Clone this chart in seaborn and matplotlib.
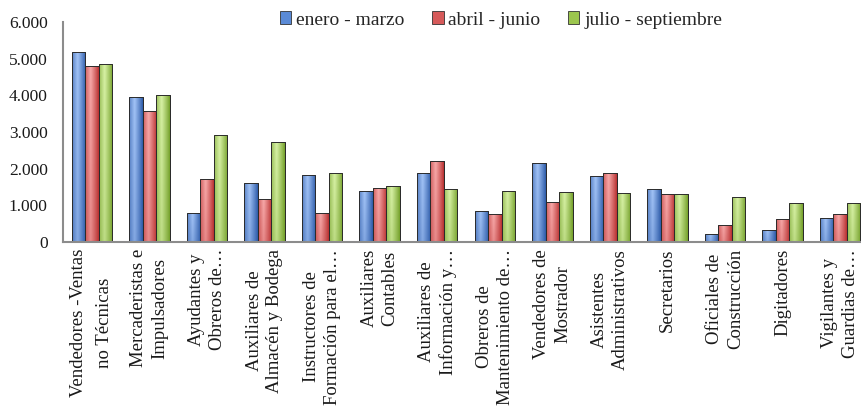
import numpy as np
import pandas as pd
import seaborn as sns
import matplotlib.pyplot as plt
from matplotlib.patches import Patch
from matplotlib.ticker import FuncFormatter

categories = [
    "Vendedores -Ventas\nno Técnicas",
    "Mercaderistas e\nImpulsadores",
    "Ayudantes y\nObreros de…",
    "Auxiliares de\nAlmacén y Bodega",
    "Instructores de\nFormación para el…",
    "Auxiliares\nContables",
    "Auxiliares de\nInformación y…",
    "Obreros de\nMantenimiento de…",
    "Vendedores de\nMostrador",
    "Asistentes\nAdministrativos",
    "Secretarios",
    "Oficiales de\nConstrucción",
    "Digitadores",
    "Vigilantes y\nGuardias de…",
]
periods = ["enero - marzo", "abril - junio", "julio - septiembre"]
enero_marzo = [5190, 3950, 780, 1600, 1830, 1380, 1870, 840, 2145, 1790, 1440, 210, 320, 645]
abril_junio = [4810, 3565, 1710, 1165, 780, 1460, 2200, 755, 1080, 1870, 1300, 455, 620, 755]
julio_septiembre = [4850, 4000, 2910, 2720, 1870, 1520, 1440, 1380, 1355, 1330, 1300, 1220, 1055, 1055]

# dark edge / light centre of each bar gradient
dark = {"enero - marzo": "#2c5aa8", "abril - junio": "#b83030", "julio - septiembre": "#74a02a"}
light = {"enero - marzo": "#a3c4f7", "abril - junio": "#f8aaaa", "julio - septiembre": "#d8f2a6"}
mid = {"enero - marzo": "#5a8ad6", "abril - junio": "#d65a5a", "julio - septiembre": "#9cc64e"}

df = pd.DataFrame({
    "Ocupación": categories * 3,
    "Periodo": [p for p in periods for _ in categories],
    "Valor": enero_marzo + abril_junio + julio_septiembre,
})

sns.set_style("white")
plt.rcParams["font.family"] = ["Liberation Serif", "DejaVu Serif"]

fig = plt.figure(figsize=(8.61, 4.13), dpi=100)
ax = fig.add_axes([63 / 861, (413 - 242) / 413, 806 / 861, 220 / 413])

pal = {p: dark[p] for p in periods}
sns.barplot(data=df, x="Ocupación", y="Valor", hue="Periodo", hue_order=periods,
            palette=pal, width=0.7, gap=0, saturation=1, legend=False, ax=ax)


def gradient_img(p):
    c0 = np.array(plt.matplotlib.colors.to_rgb(dark[p]))
    c1 = np.array(plt.matplotlib.colors.to_rgb(light[p]))
    t = np.linspace(0, 1, 40)
    m = np.clip(1 - np.abs(t - 0.4) / 0.6, 0, 1) ** 0.9
    v = np.linspace(0, 1, 60)
    vert = 0.75 + 0.25 * v
    img = c0[None, None, :] + (c1 - c0)[None, None, :] * (m[None, :, None] * vert[:, None, None])
    return np.clip(img, 0, 1)


# patches come out grouped by hue level
n = len(categories)
for i, bar in enumerate(ax.patches[:3 * n]):
    p = periods[i // n]
    x0, y0 = bar.get_x(), bar.get_y()
    w, h = bar.get_width(), bar.get_height()
    im = ax.imshow(gradient_img(p), extent=[x0, x0 + w, y0, y0 + h], origin="lower",
                   aspect="auto", zorder=bar.get_zorder() + 0.5, interpolation="bilinear")
    im.set_clip_path(bar)
    bar.set_edgecolor("#333333")
    bar.set_linewidth(0.6)
    edge = plt.Rectangle((x0, y0), w, h, fill=False, edgecolor="#2b2b2b", linewidth=0.7,
                         zorder=bar.get_zorder() + 1)
    ax.add_patch(edge)

ax.set_xlim(-0.5, n - 0.5)
ax.set_ylim(0, 6000)
ax.set_yticks(range(0, 6001, 1000))
ax.yaxis.set_major_formatter(FuncFormatter(lambda v, _: f"{int(v):,}".replace(",", ".")))
ax.set_xlabel("")
ax.set_ylabel("")

for side in ["top", "right"]:
    ax.spines[side].set_visible(False)
for side in ["left", "bottom"]:
    ax.spines[side].set_color("#8c8c8c")
    ax.spines[side].set_linewidth(1.5)

ax.tick_params(axis="y", length=0, pad=11, labelsize=12.5, colors="#1a1a1a")
ax.tick_params(axis="x", length=0, pad=5)
ax.set_xticks(range(n))
ax.set_xticklabels(categories, rotation=90, ha="center", va="top", multialignment="center",
                   fontsize=13.5, linespacing=1.3, color="#1a1a1a")
ax.get_xticklabels()[0].set_linespacing(1.7)

handles = [Patch(facecolor=mid[p], edgecolor="#333333", linewidth=0.6, label=p) for p in periods]
fig.legend(handles=handles, loc="center", bbox_to_anchor=(501 / 861, 1 - 20 / 413), ncol=3,
           frameon=False, fontsize=14, handlelength=0.6, handleheight=0.6,
           handletextpad=0.25, columnspacing=1.4)

fig.savefig("out.png", dpi=100)
